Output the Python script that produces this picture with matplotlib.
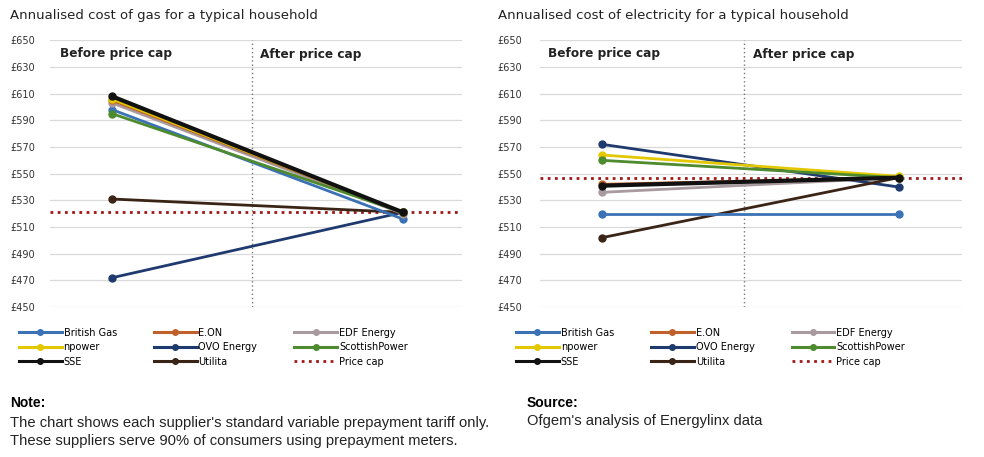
import matplotlib.pyplot as plt
from matplotlib.lines import Line2D

# suppliers, same order as the legend (row by row)
suppliers = ['British Gas', 'E.ON', 'EDF Energy', 'npower', 'OVO Energy',
             'ScottishPower', 'SSE', 'Utilita']
colors = ['#3A72B5', '#C0602A', '#A89A9E', '#E3C800', '#1F3A6E',
          '#4E8A2E', '#111111', '#3A2416']

# annualised cost (before cap, after cap)
gas_before = [598, 605, 603, 606, 472, 595, 608, 531]
gas_after = [516, 521, 520, 521, 521, 521, 521, 521]
gas_cap = 521

elec_before = [520, 542, 536, 564, 572, 560, 541, 502]
elec_after = [520, 547, 547, 548, 540, 547, 547, 547]
elec_cap = 547

yticks = [450, 470, 490, 510, 530, 550, 570, 590, 610, 630, 650]
ytick_labels = ['£' + str(v) for v in yticks]

plt.rcParams['font.family'] = ['DejaVu Sans']

fig = plt.figure(figsize=(9.84, 4.57), dpi=100)
fig.patch.set_facecolor('white')

# rect, xlim, data, title, title x (px), tick label left (px), legend x offset
panels = [
    ([0.0508, 0.328, 0.4187, 0.584], (-0.213, 1.203), gas_before, gas_after, gas_cap,
     'Annualised cost of gas for a typical household', 10, 10, -0.085),
    ([0.5488, 0.328, 0.4289, 0.584], (-0.208, 1.214), elec_before, elec_after, elec_cap,
     'Annualised cost of electricity for a typical household', 498, 497, -0.066),
]

for rect, xlim, before, after, cap, title, title_x, lab_x, leg_x in panels:
    ax = fig.add_axes(rect)
    ax.set_xlim(*xlim)
    ax.set_ylim(450, 650)
    ax.set_yticks(yticks)
    ax.set_yticklabels(ytick_labels, fontsize=7, color='#333333')
    for lab in ax.get_yticklabels():
        lab.set_horizontalalignment('left')
    pad_pt = (rect[0] * 984 - lab_x) * 72 / 100
    ax.tick_params(axis='y', length=0, pad=pad_pt)
    ax.set_xticks([])
    for s in ax.spines.values():
        s.set_visible(False)
    ax.grid(axis='y', color='#DADADA', lw=0.9)
    ax.set_axisbelow(True)

    # before / after divider
    ax.axvline(0.48, color='#777777', lw=1, ls=(0, (1, 2)), zorder=1)

    # price cap
    ax.axhline(cap, color='#A01818', lw=2, ls=(0, (1, 1.6)), zorder=2)

    order = [4, 7, 0, 2, 1, 3, 5, 6]
    for i in order:
        lw = 3 if suppliers[i] == 'SSE' else 2
        ax.plot([0, 1], [before[i], after[i]], color=colors[i], lw=lw,
                marker='o', ms=5, zorder=3)

    ax.text(-0.18, 640, 'Before price cap', fontsize=8.7, fontweight='bold',
            color='#222222', va='center')
    ax.text(0.51, 639, 'After price cap', fontsize=8.7, fontweight='bold',
            color='#222222', va='center')
    fig.text(title_x / 984, 1 - 16 / 457, title, fontsize=9.5, color='#222222',
             va='center', ha='left')

    # legend laid out in three columns, filled row by row
    handles = [Line2D([], [], color=colors[i], lw=2.2, marker='o', ms=4)
               for i in range(len(suppliers))]
    handles.append(Line2D([], [], color='#A01818', lw=2, ls=(0, (1, 1.6))))
    labels = suppliers + ['Price cap']
    col_order = [0, 3, 6, 1, 4, 7, 2, 5, 8]
    ax.legend([handles[k] for k in col_order], [labels[k] for k in col_order],
              ncol=3, loc='upper left', bbox_to_anchor=(leg_x, -0.063),
              frameon=False, fontsize=7, handlelength=4.4, handletextpad=0.2,
              columnspacing=3.8, labelspacing=0.45, borderaxespad=0)

fig.text(10 / 984, 1 - 403 / 457, 'Note:', fontsize=10, fontweight='bold',
         family='Liberation Sans', va='center')
fig.text(10 / 984, 1 - 423 / 457,
         "The chart shows each supplier's standard variable prepayment tariff only.",
         fontsize=10.6, family='Liberation Sans', va='center', color='#222222')
fig.text(10 / 984, 1 - 441 / 457,
         'These suppliers serve 90% of consumers using prepayment meters.',
         fontsize=10.6, family='Liberation Sans', va='center', color='#222222')
fig.text(527 / 984, 1 - 403 / 457, 'Source:', fontsize=10, fontweight='bold',
         family='Liberation Sans', va='center')
fig.text(527 / 984, 1 - 421 / 457, "Ofgem's analysis of Energylinx data",
         fontsize=10.6, family='Liberation Sans', va='center', color='#222222')

fig.savefig('out.png', dpi=100)
